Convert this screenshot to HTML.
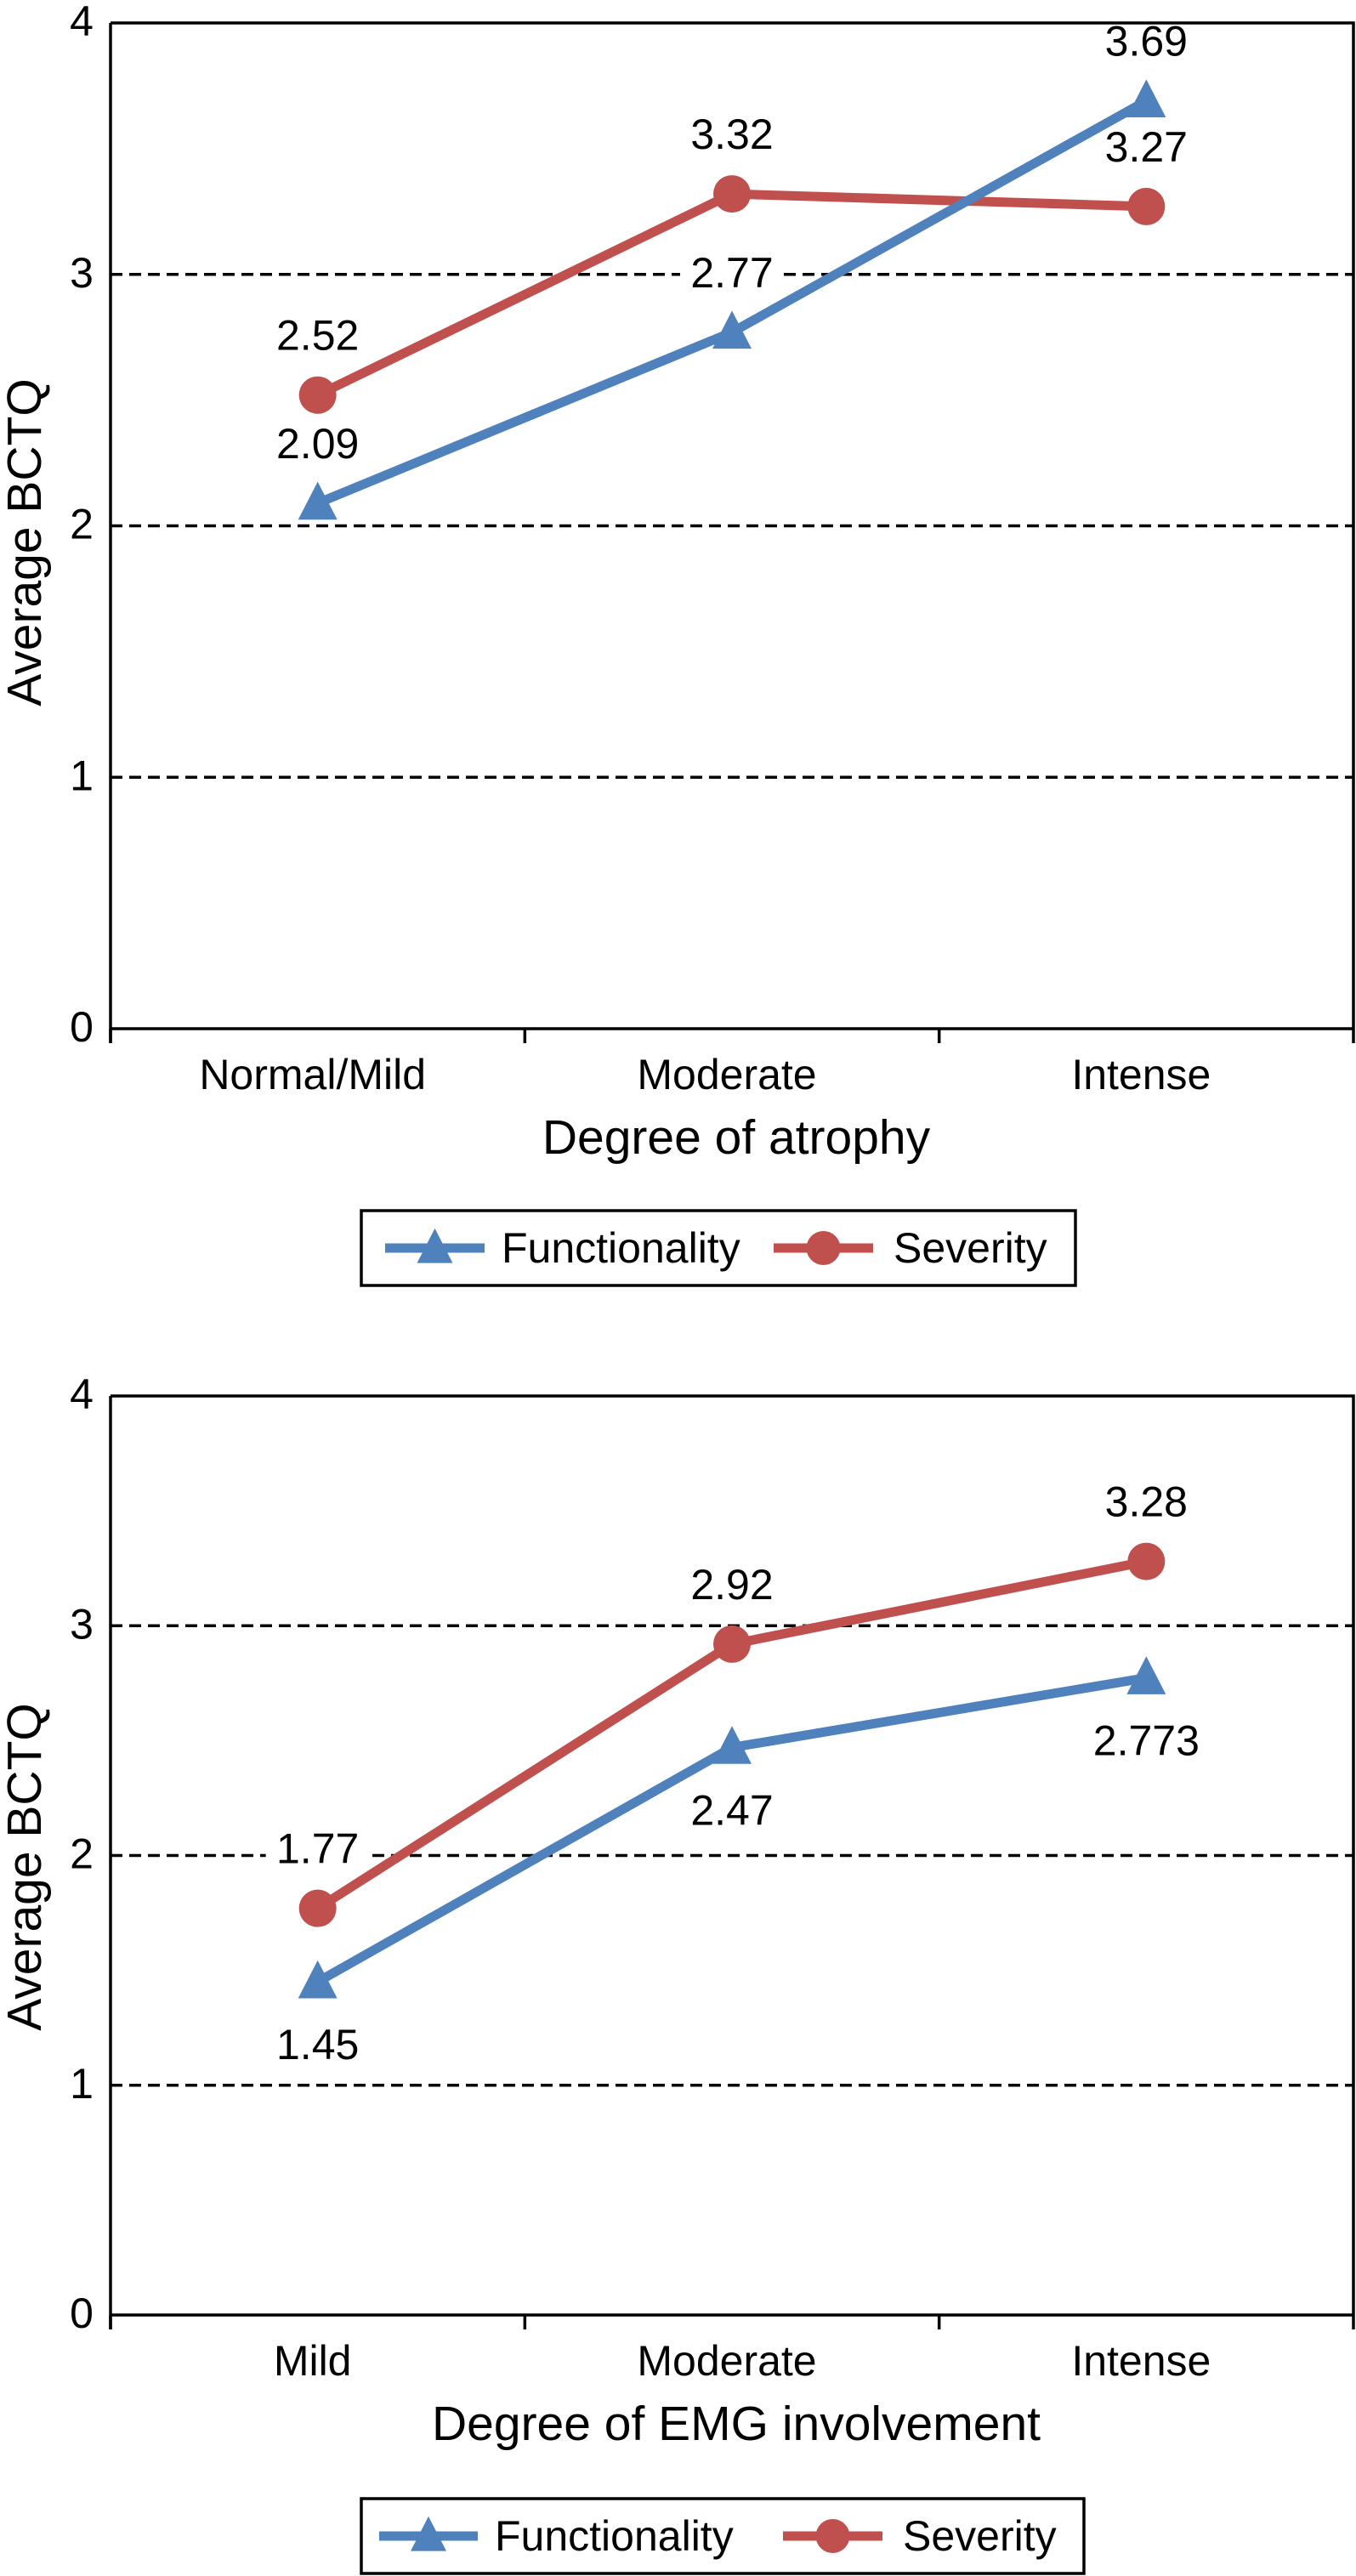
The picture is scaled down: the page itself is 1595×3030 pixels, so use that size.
<!DOCTYPE html>
<html><head><meta charset="utf-8"><style>
html,body{margin:0;padding:0;background:#fff}
svg{display:block;font-family:"Liberation Sans",Arial,sans-serif}
</style></head><body>
<svg id="fig" width="1595" height="3030" viewBox="0 0 1595 3030"></svg>
<script>
const categories1 = ["Normal/Mild","Moderate","Intense"];
const functionality1 = [2.09, 2.77, 3.69];
const severity1 = [2.52, 3.32, 3.27];
const categories2 = ["Mild","Moderate","Intense"];
const functionality2 = [1.45, 2.47, 2.773];
const severity2 = [1.77, 2.92, 3.28];
const funcLabels2 = ["1.45","2.47","2.773"];
const yTicks = [0,1,2,3,4];
const xTitle1 = "Degree of atrophy";
const xTitle2 = "Degree of EMG involvement";

const NS="http://www.w3.org/2000/svg";
const svg=document.getElementById('fig');
function mk(tag,attrs,parent){const e=document.createElementNS(NS,tag);for(const k in attrs)e.setAttribute(k,attrs[k]);(parent||svg).appendChild(e);return e;}
function txt(s,x,y,size,parent,anchor){const t=mk('text',{x:x,y:y,'font-size':size,'text-anchor':anchor||'middle','dominant-baseline':'central',fill:'#000'},parent);t.textContent=s;return t;}
const BLUE="#4F81BD",RED="#C0504D";

function tri(g,cx,cy,s){return mk('polygon',{points:`${cx},${cy-s*0.55} ${cx-s/2},${cy+s*0.42} ${cx+s/2},${cy+s*0.42}`,fill:BLUE},g);}

function chart(cfg){
  const g=mk('g',{});
  
  
  const L=130,R=1592,T=cfg.top,B=cfg.bottom;
  const yMax=4;
  const y=v=>B-(v/yMax)*(B-T);
  const bw=(R-L)/cfg.cats.length;
  const x=i=>L+bw*(i+0.5);
  yTicks.forEach(v=>{
    if(v>0&&v<yMax){const l=mk('line',{x1:L,x2:R,y1:y(v),y2:y(v),stroke:'#000','stroke-width':3.5,'stroke-dasharray':'14 8'},g);
      
      }
    const t=txt(String(v),96,y(v)-2,50,g);
    
    
  });
  cfg.cats.forEach((c,i)=>{const t=txt(c,x(i)-6,B+54,50,g);
    
    });
  const xt=txt(cfg.xTitle,866,B+128,57,g);
  
  
  const yt=txt("Average BCTQ",0,0,57,g);
  yt.setAttribute('transform',`translate(29,${cfg.yTitleY}) rotate(-90)`);
  
  
  function series(vals,color,kind,labelPos,name,labels){
    const sg=mk('g',{},g);
    
    
    const pl=mk('polyline',{points:vals.map((v,i)=>`${x(i)},${y(v)}`).join(' '),fill:'none',stroke:color,'stroke-width':11,'stroke-linejoin':'round'},sg);
    
    
    vals.forEach((v,i)=>{
      let m;
      if(kind==='tri')m=tri(sg,x(i),y(v),46);else m=mk('circle',{cx:x(i),cy:y(v),r:22,fill:color},sg);
      
      
    });
    vals.forEach((v,i)=>{
      const s=labels?labels[i]:v.toFixed(2);
      const ly=y(v)+(labelPos==='above'?-70:74);
      const w=s.length*29+6;
      mk('rect',{x:x(i)-w/2,y:ly-19,width:w,height:38,fill:'#fff'},sg);
      const t=txt(s,x(i),ly,50,sg);
      
      
    });
  }
  series(cfg.sev,RED,'dot','above','severity-series');
  series(cfg.func,BLUE,'tri',cfg.funcPos,'functionality-series',cfg.funcLabels);
  const fr=mk('path',{d:`M${L},${T} H${R} V${B} M${L},${T} V${B+17} M${L},${B} H${R}`,fill:'none',stroke:'#000','stroke-width':3.5},g);
  
  
  for(let i=0;i<=cfg.cats.length;i++){mk('line',{x1:L+bw*i,x2:L+bw*i,y1:B,y2:B+17,stroke:'#000','stroke-width':3.5},g);}
  const lg=mk('g',{},g);
  
  
  const lgT=cfg.legT,lgB=cfg.legB,cy=(lgT+lgB)/2;
  mk('rect',{x:425,y:lgT,width:cfg.legW,height:lgB-lgT,fill:'#fff',stroke:'#000','stroke-width':3.5},lg);
  const e1=mk('g',{},lg);
  
  
  mk('line',{x1:cfg.l1[0],x2:cfg.l1[1],y1:cy,y2:cy,stroke:BLUE,'stroke-width':11},e1);
  tri(e1,(cfg.l1[0]+cfg.l1[1])/2,cy,42);
  txt("Functionality",cfg.l1[1]+20,cy,50,e1,'start');
  const e2=mk('g',{},lg);
  
  
  mk('line',{x1:cfg.l2[0],x2:cfg.l2[1],y1:cy,y2:cy,stroke:RED,'stroke-width':11},e2);
  mk('circle',{cx:(cfg.l2[0]+cfg.l2[1])/2,cy:cy,r:20,fill:RED},e2);
  txt("Severity",cfg.l2[1]+24,cy,50,e2,'start');
}
chart({name:'atrophy-chart',top:27,bottom:1210,cats:categories1,func:functionality1,sev:severity1,funcPos:'above',xTitle:xTitle1,yTitleY:638,legT:1424,legB:1512,legW:840,l1:[453,570],l2:[910,1027]});
chart({name:'emg-chart',top:1642,bottom:2723,cats:categories2,func:functionality2,sev:severity2,funcPos:'below',funcLabels:funcLabels2,xTitle:xTitle2,yTitleY:2196,legT:2939,legB:3027,legW:850,l1:[446,562],l2:[921,1038]});
</script>
</body></html>
